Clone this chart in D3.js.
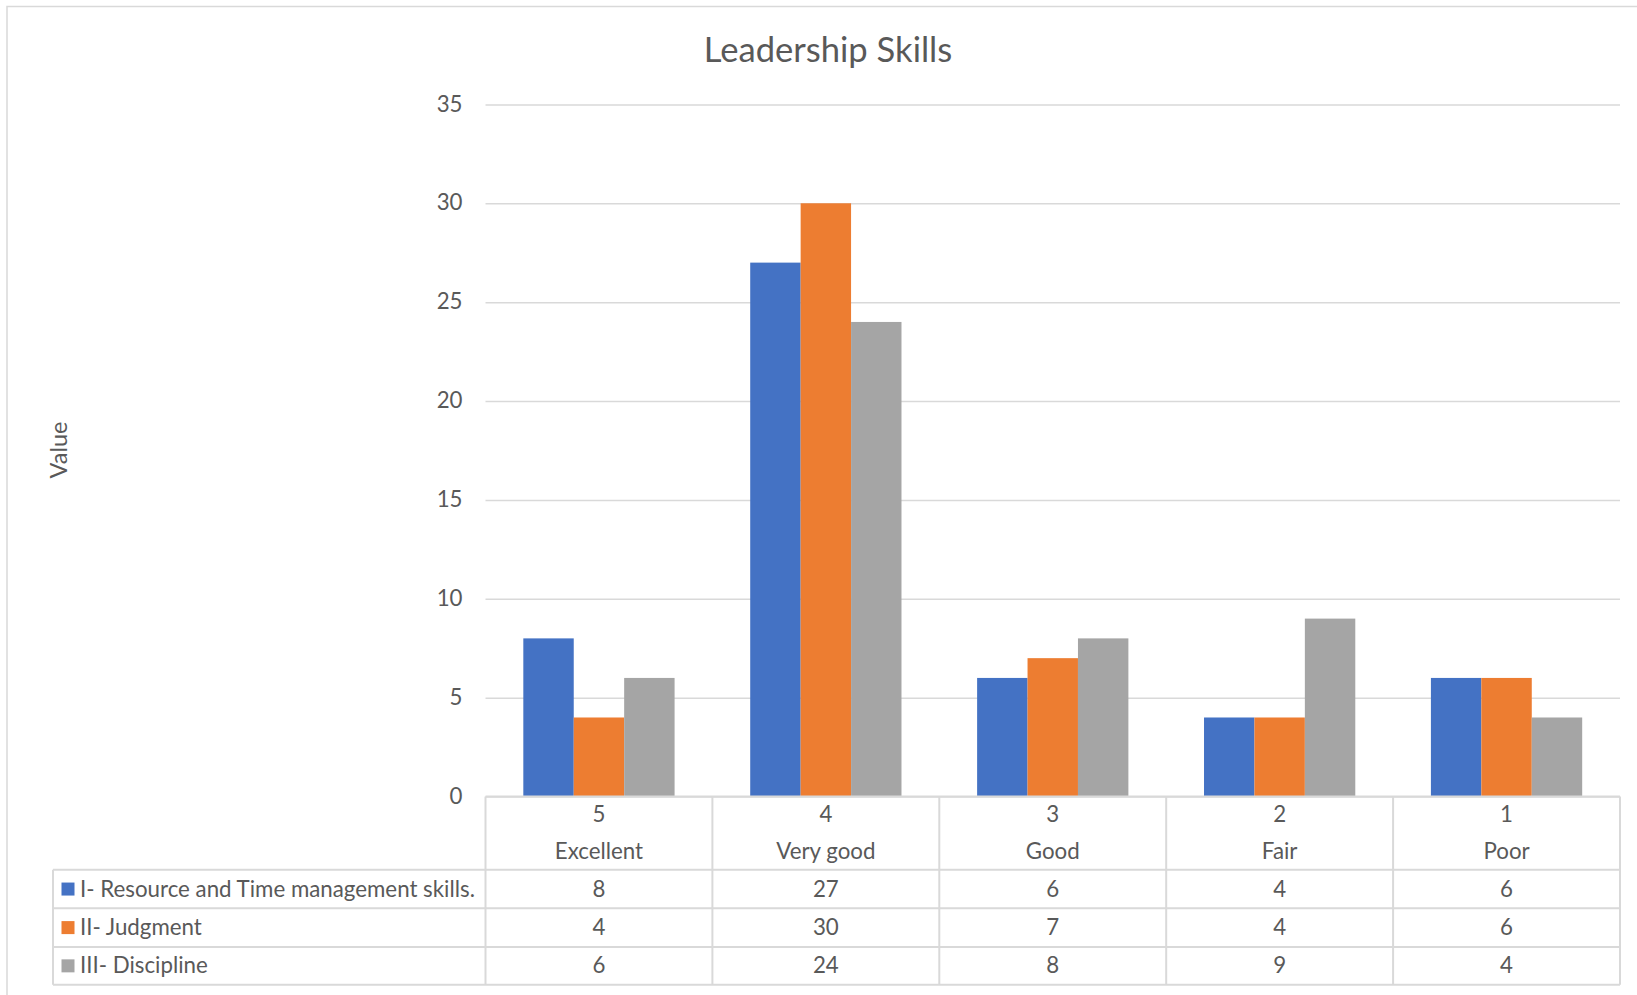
<!DOCTYPE html>
<html><head><meta charset="utf-8">
<script src="https://cdn.jsdelivr.net/npm/d3@7"></script>
<style>
html,body{margin:0;padding:0;background:#fff;overflow:hidden}
text{font-family:Lato,"Open Sans",sans-serif;fill:#595959}
</style></head>
<body>
<svg id="chart" width="1637" height="995"></svg>
<script>
const title = "Leadership Skills";
const yAxisTitle = "Value";
const categoryCodes = ["5","4","3","2","1"];
const categoryNames = ["Excellent","Very good","Good","Fair","Poor"];
const seriesNames = ["I- Resource and Time management skills.","II- Judgment","III- Discipline"];
const seriesColors = ["#4472C4","#ED7D31","#A5A5A5"];
const resourceTime = [8,27,6,4,6];
const judgment = [4,30,7,4,6];
const discipline = [6,24,8,9,4];
const yTicks = [0,5,10,15,20,25,30,35];
const seriesValues = [resourceTime, judgment, discipline];

const svg = d3.select("#chart");
const W = 1637, H = 995;
const plotL = 485.5, plotR = 1620, plotT = 104.4, plotB = 796.6;
const legendL = 53;
const rowH = [796.6, 869.8, 908.3, 946.9, 984.8];
const grid = "#D9D9D9";
const baseFont = 22.3;

// chart border
svg.append("rect").attr("x",7).attr("y",6.5).attr("width",W).attr("height",H)
  .attr("fill","none").attr("stroke",grid).attr("stroke-width",1.5);

const x = d3.scaleBand().domain(categoryCodes).range([plotL, plotR]).paddingInner(0).paddingOuter(0);
const bw = x.bandwidth();
const gap = 1.5;
const barW = bw / (seriesNames.length + gap);
const xs = d3.scaleBand().domain(d3.range(seriesNames.length))
  .range([barW*gap/2, bw - barW*gap/2]).padding(0);
const y = d3.scaleLinear().domain([0,35]).range([plotB, plotT]);

// gridlines + y axis via d3 axis
const yAxis = d3.axisLeft(y).tickValues(yTicks).tickSize(-(plotR-plotL)).tickPadding(23).tickFormat(d3.format("d"));
const ga = svg.append("g").attr("transform",`translate(${plotL},0)`).call(yAxis);
ga.select(".domain").remove();
ga.selectAll(".tick line").attr("stroke",grid).attr("stroke-width",1.5);
ga.selectAll(".tick text").attr("font-size",baseFont).attr("fill","#595959")
  .style("font-family","Lato, sans-serif").attr("dy","0.3em");

// bars
seriesValues.forEach((vals, si) => {
  svg.append("g").selectAll("rect").data(vals).join("rect")
    .attr("x",(d,i)=> x(categoryCodes[i]) + xs(si))
    .attr("width", xs.bandwidth())
    .attr("y", d => y(d))
    .attr("height", d => y(0) - y(d))
    .attr("fill", seriesColors[si]);
});

// title
svg.append("text").attr("x",828).attr("y",48.5).attr("text-anchor","middle")
  .attr("dominant-baseline","central").attr("font-size",34.6).text(title);

// y axis title
svg.append("text").attr("transform","translate(58,450) rotate(-90)").attr("text-anchor","middle")
  .attr("dominant-baseline","central").attr("font-size",23.5).text(yAxisTitle);

// data table
const tbl = svg.append("g");
const line = (x1,y1,x2,y2)=> tbl.append("line").attr("x1",x1).attr("y1",y1).attr("x2",x2).attr("y2",y2)
  .attr("stroke",grid).attr("stroke-width",2);
line(plotL, rowH[0], plotR, rowH[0]);
for (let r=1;r<rowH.length;r++) line(legendL, rowH[r], plotR, rowH[r]);
const cols = categoryCodes.map(c=>x(c)).concat([plotR]);
cols.forEach(cx => line(cx, rowH[0], cx, rowH[4]));
line(legendL, rowH[1], legendL, rowH[4]);

categoryCodes.forEach((c,i)=>{
  const cx = x(c) + bw/2;
  tbl.append("text").attr("x",cx).attr("y",813).attr("text-anchor","middle").attr("dominant-baseline","central")
    .attr("font-size",baseFont).text(c);
  tbl.append("text").attr("x",cx).attr("y",850.5).attr("text-anchor","middle").attr("dominant-baseline","central")
    .attr("font-size",baseFont).text(categoryNames[i]);
});
seriesValues.forEach((vals,si)=>{
  const cy = (rowH[si+1]+rowH[si+2])/2;
  tbl.append("rect").attr("x",61.5).attr("y",cy-6.5).attr("width",13).attr("height",13).attr("fill",seriesColors[si]);
  tbl.append("text").attr("x",80).attr("y",cy-1).attr("dominant-baseline","central").attr("font-size",baseFont).text(seriesNames[si]);
  vals.forEach((v,i)=>{
    tbl.append("text").attr("x",x(categoryCodes[i])+bw/2).attr("y",cy-1).attr("text-anchor","middle")
      .attr("dominant-baseline","central").attr("font-size",baseFont).text(v);
  });
});
</script>
</body></html>
